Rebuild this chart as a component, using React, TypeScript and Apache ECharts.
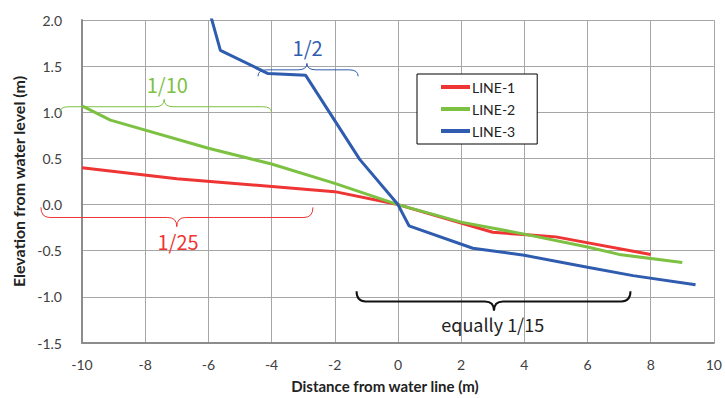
import React, { useEffect, useRef } from "react";
import * as echarts from "echarts";

const xTicks = { min: -10, max: 10, interval: 2 };
const yTicks = { min: -1.5, max: 2.0, interval: 0.5 };

const seriesNames = ["LINE-1", "LINE-2", "LINE-3"];
const seriesColors = ["#EF3434", "#7CC142", "#2F5CAE"];

const line1: number[][] = [
  [-10, 0.4], [-7, 0.28], [-2, 0.14], [0, 0], [3, -0.3], [5, -0.35], [8, -0.54],
];
const line2: number[][] = [
  [-10, 1.07], [-9.1, 0.915], [-6, 0.61], [-4, 0.44], [-2, 0.23], [0, 0],
  [2, -0.19], [4, -0.32], [6, -0.46], [7, -0.54], [9, -0.627],
];
const line3: number[][] = [
  [-5.97, 2.1], [-5.62, 1.67], [-4.11, 1.42], [-2.92, 1.4], [-1.21, 0.49], [0, 0],
  [0.35, -0.23], [2.37, -0.473], [4, -0.55], [6, -0.68], [7.44, -0.77], [9.42, -0.868],
];

// brace annotations in data coordinates: [xStart, xEnd, xTip, yEnd, yMain, yTip]
const braceGeom: number[][] = [
  [-10.7, -4.0, -7.4, 1.0, 1.06, 1.14],
  [-4.43, -1.26, -2.88, 1.39, 1.46, 1.53],
  [-11.3, -2.69, -7.0, -0.03, -0.14, -0.24],
  [-1.31, 7.36, 3.04, -0.94, -1.05, -1.15],
];
const braceLabels = ["1/10", "1/2", "1/25", "equally 1/15"];
const braceLabelPos: number[][] = [[-7.3, 1.3], [-2.86, 1.7], [-6.96, -0.395], [3.0, -1.29]];
const braceColors = ["#7CC142", "#2F5CAE", "#EF3434", "#111111"];
const braceWidths = [1, 1, 1, 2];
const braceFont = [20, 20, 20, 18];

export default function App() {
  const ref = useRef<HTMLDivElement>(null);
  useEffect(() => {
    if (!ref.current) return;
    const chart = echarts.init(ref.current, undefined, { renderer: "svg" });
    const font = "Lato, 'Open Sans', sans-serif";
    const lines = [line1, line2, line3].map((d, i) => ({
      name: seriesNames[i],
      type: "line",
      data: d,
      showSymbol: false,
      symbol: "none",
      clip: true,
      lineStyle: { color: seriesColors[i], width: 3 },
      itemStyle: { color: seriesColors[i] },
      z: 3,
    }));
    const braceSeries = {
      type: "custom",
      name: "braces",
      clip: false,
      z: 5,
      silent: true,
      data: braceGeom.map((b) => [b[0], b[4]]),
      renderItem: (params: any, api: any) => {
        const i = params.dataIndex;
        const [x1, x2, xt, yE, yM, yT] = braceGeom[i];
        const p1 = api.coord([x1, yE]);
        const pm = api.coord([x1, yM]);
        const pt = api.coord([xt, yT]);
        const p2 = api.coord([x2, yE]);
        const yEp = p1[1];
        const yMp = pm[1];
        const yTp = pt[1];
        const a = p1[0];
        const b = p2[0];
        const t = pt[0];
        const r = 9;
        const d =
          `M${a},${yEp} Q${a},${yMp} ${a + r},${yMp} L${t - r},${yMp} Q${t},${yMp} ${t},${yTp} ` +
          `Q${t},${yMp} ${t + r},${yMp} L${b - r},${yMp} Q${b},${yMp} ${b},${yEp}`;
        const lp = api.coord(braceLabelPos[i]);
        return {
          type: "group",
          children: [
            {
              type: "path",
              shape: { pathData: d },
              style: { stroke: braceColors[i], fill: "none", lineWidth: braceWidths[i] },
            },
            {
              type: "text",
              x: lp[0],
              y: lp[1],
              style: {
                text: braceLabels[i],
                fill: braceColors[i] === "#111111" ? "#222222" : braceColors[i],
                font: `${braceFont[i]}px 'Noto Sans CJK JP', sans-serif`,
                align: "center",
                verticalAlign: "middle",
                textAlign: "center",
                textVerticalAlign: "middle",
              },
            },
          ],
        };
      },
    };
    chart.setOption({
      animation: false,
      backgroundColor: "#ffffff",
      grid: { left: 82, top: 20, width: 632, height: 325.5, containLabel: false },
      legend: {
        data: seriesNames,
        orient: "vertical",
        left: 417,
        top: 74,
        icon: "rect",
        itemWidth: 29,
        itemHeight: 4,
        itemGap: 8,
        padding: [6, 22, 6, 24],
        backgroundColor: "#ffffff",
        borderColor: "#000000",
        borderWidth: 1,
        borderRadius: 0,
        textStyle: { fontFamily: font, fontSize: 14, color: "#222222", padding: [0, 0, 0, -3] },
      },
      xAxis: {
        type: "value",
        min: xTicks.min,
        max: xTicks.max,
        interval: xTicks.interval,
        name: "Distance from water line (m)",
        nameLocation: "middle",
        nameGap: 35,
        nameTextStyle: {
          fontFamily: font,
          fontSize: 15,
          fontWeight: "bold",
          color: "#222222",
          padding: [0, 26, 0, 0],
        },
        axisLine: { show: true, onZero: false, lineStyle: { color: "#8C8C8C", width: 2 } },
        axisTick: { show: false },
        axisLabel: { fontFamily: font, fontSize: 14, color: "#404040", margin: 14 },
        splitLine: { show: true, lineStyle: { color: "#A6A6A6", width: 1 } },
      },
      yAxis: {
        type: "value",
        min: yTicks.min,
        max: yTicks.max,
        interval: yTicks.interval,
        name: "Elevation from water level (m)",
        nameLocation: "middle",
        nameRotate: 90,
        nameGap: 52,
        nameTextStyle: { fontFamily: font, fontSize: 16, fontWeight: "bold", color: "#222222" },
        axisLine: { show: true, onZero: false, lineStyle: { color: "#8C8C8C", width: 2 } },
        axisTick: { show: false },
        axisLabel: {
          fontFamily: font,
          fontSize: 14,
          color: "#404040",
          margin: 20,
          formatter: (v: number) => v.toFixed(1),
        },
        splitLine: { show: true, lineStyle: { color: "#A6A6A6", width: 1 } },
      },
      series: [...lines, braceSeries],
    });
    return () => chart.dispose();
  }, []);
  return (
    <div
      ref={ref}
      style={{ position: "fixed", left: 0, top: 0, width: 725, height: 398 }}
    />
  );
}
